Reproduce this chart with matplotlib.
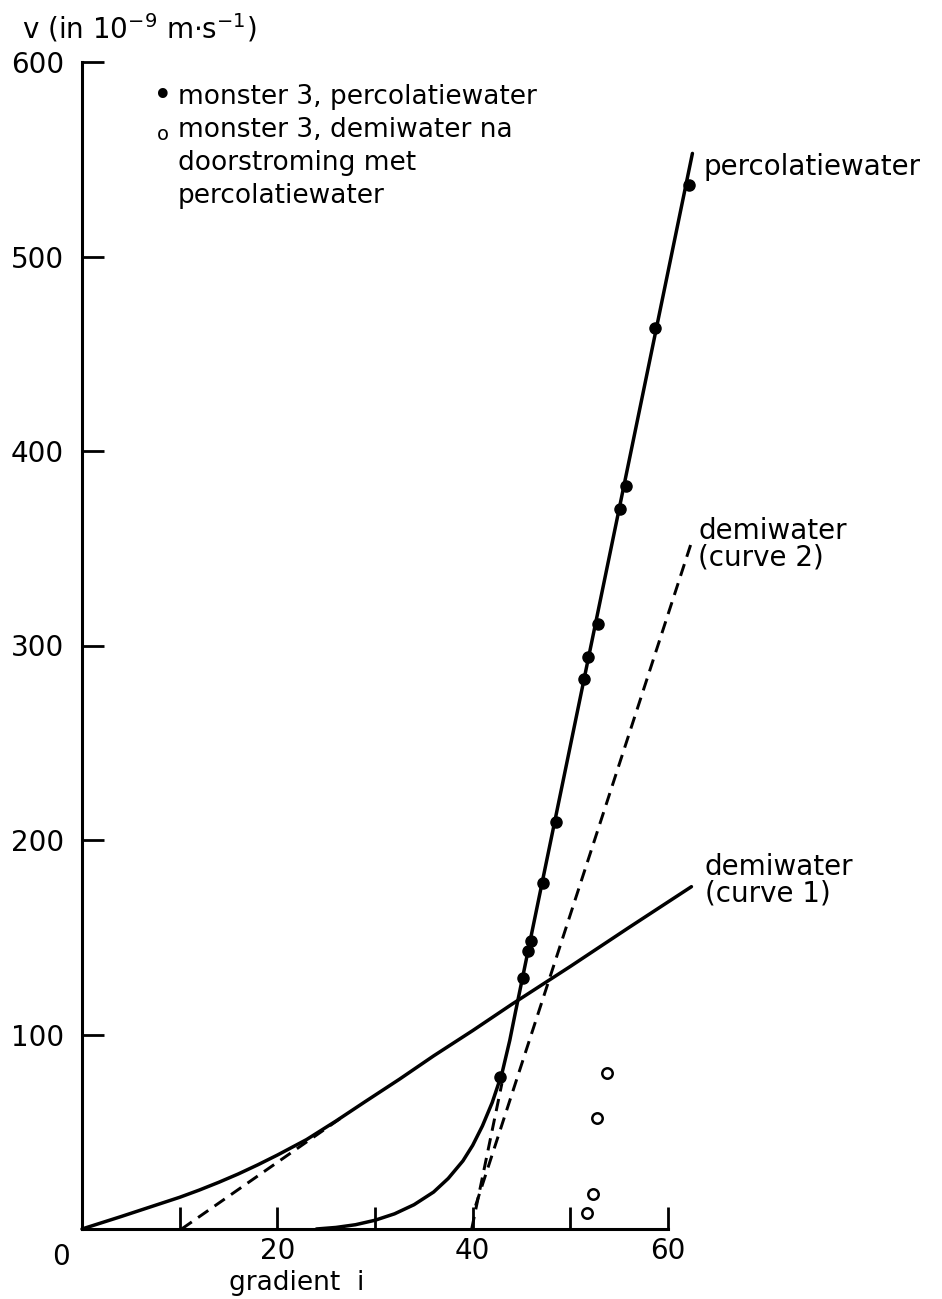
import matplotlib
matplotlib.use("Agg")
import matplotlib.pyplot as plt

# ---------------- data ----------------
# percolatiewater: measured points (filled)
perc_pts_x = [42.8, 45.2, 45.7, 46.0, 47.2, 48.5, 51.4, 51.8, 52.8, 55.1, 55.7, 58.7, 62.1]
perc_pts_y = [78, 129, 143, 148, 178, 209, 283, 294, 311, 370, 382, 463, 537]

# percolatiewater: fitted solid curve
perc_curve_x = [24.0, 26.0, 28.0, 30.0, 32.0, 34.0, 36.0, 37.5, 39.0, 40.0, 41.0, 42.0, 43.0, 43.8, 44.4, 62.5]
perc_curve_y = [0, 0.8, 2.2, 4.5, 7.8, 12.5, 19, 26, 35, 43, 53, 65, 80, 97, 112, 553]

# extrapolation of the straight part to the axis (dashed)
perc_ext_x = [39.9, 43.0]
perc_ext_y = [0, 75]

# demiwater after percolation (open circles)
demi_pts_x = [51.7, 52.3, 52.7, 53.8]
demi_pts_y = [8, 18, 57, 80]

# demiwater curve 1 (solid)
curve1_x = [0, 2, 4, 6, 8, 10, 12, 14, 16, 18, 20, 23, 26, 29, 32.5, 36, 40, 44, 50, 56, 62.4]
curve1_y = [0, 3.2, 6.4, 9.7, 13, 16.3, 20, 24, 28.3, 33, 38, 46, 55.5, 65.5, 77, 89, 102, 115.5, 135, 155, 176]

# tangent to curve 1 (dashed)
tangent1_x = [10.2, 26.5]
tangent1_y = [0, 57]

# demiwater curve 2 (dashed)
curve2_x = [40.3, 62.4]
curve2_y = [12, 353]

x_ticks = [10, 20, 30, 40, 50, 60]
x_ticklabels = ["", "20", "", "40", "", "60"]
y_ticks = [100, 200, 300, 400, 500, 600]
y_ticklabels = ["100", "200", "300", "400", "500", "600"]

# ---------------- figure ----------------
plt.rcParams['font.family'] = ['DejaVu Sans']
W, H = 942, 1299
fig = plt.figure(figsize=(W / 100, H / 100), dpi=100)
ax = fig.add_axes([82 / W, 70 / H, 586 / W, 1167 / H])
ax.set_xlim(0, 60)
ax.set_ylim(0, 600)

for s in ['top', 'right']:
    ax.spines[s].set_visible(False)
for s in ['left', 'bottom']:
    ax.spines[s].set_linewidth(2.2)

lw = 2.5
dash = (0, (4.2, 2.6))

ax.plot(curve1_x, curve1_y, color='black', lw=lw, clip_on=False, solid_capstyle='round')
ax.plot(tangent1_x, tangent1_y, color='black', lw=lw * 0.85, ls=dash, clip_on=False)
ax.plot(curve2_x, curve2_y, color='black', lw=lw * 0.85, ls=dash, clip_on=False)
ax.plot(perc_ext_x, perc_ext_y, color='black', lw=lw * 0.85, ls=dash, clip_on=False)
ax.plot(perc_curve_x, perc_curve_y, color='black', lw=lw, clip_on=False, solid_capstyle='round')

ax.plot(perc_pts_x, perc_pts_y, ls='none', marker='o', ms=8, color='black', clip_on=False)
ax.plot(demi_pts_x, demi_pts_y, ls='none', marker='o', ms=7.5, mfc='white', mec='black',
        mew=1.8, clip_on=False)

# ticks
ax.set_xticks(x_ticks)
ax.set_xticklabels(x_ticklabels)
ax.set_yticks(y_ticks)
ax.set_yticklabels(y_ticklabels)
ax.tick_params(axis='both', direction='in', length=16, width=2.0, labelsize=20)
ax.tick_params(axis='x', pad=6)
ax.tick_params(axis='y', pad=13)

# origin label "0"
ax.text(-2.2, -7, "0", ha='center', va='top', fontsize=20, clip_on=False)

# axis titles
fig.text(22 / W, 1 - 28 / H, r"v (in 10$^{-9}$ m$\cdot$s$^{-1}$)", fontsize=20,
         ha='left', va='center')
fig.text(297 / W, 1 - 1283 / H, "gradient  i", fontsize=19, ha='center', va='center')

# legend-like annotations
fs_leg = 19
fig.text(163 / W, 1 - 97 / H, "\u2022", fontsize=24, ha='center', va='center')
fig.text(178 / W, 1 - 97 / H, "monster 3, percolatiewater", fontsize=fs_leg,
         ha='left', va='center')
fig.text(163 / W, 1 - 135 / H, "o", fontsize=14, ha='center', va='center')
fig.text(178 / W, 1 - 163 / H, "monster 3, demiwater na\ndoorstroming met\npercolatiewater",
         fontsize=fs_leg, ha='left', va='center', linespacing=1.33)

# curve labels
fs_lab = 20
fig.text(703 / W, 1 - 167 / H, "percolatiewater", fontsize=fs_lab, ha='left', va='center')
fig.text(698 / W, 1 - 544 / H, "demiwater\n(curve 2)", fontsize=fs_lab, ha='left',
         va='center', linespacing=0.95)
fig.text(705 / W, 1 - 880 / H, "demiwater\n(curve 1)", fontsize=fs_lab, ha='left',
         va='center', linespacing=0.95)

fig.savefig("out.png", dpi=100)
